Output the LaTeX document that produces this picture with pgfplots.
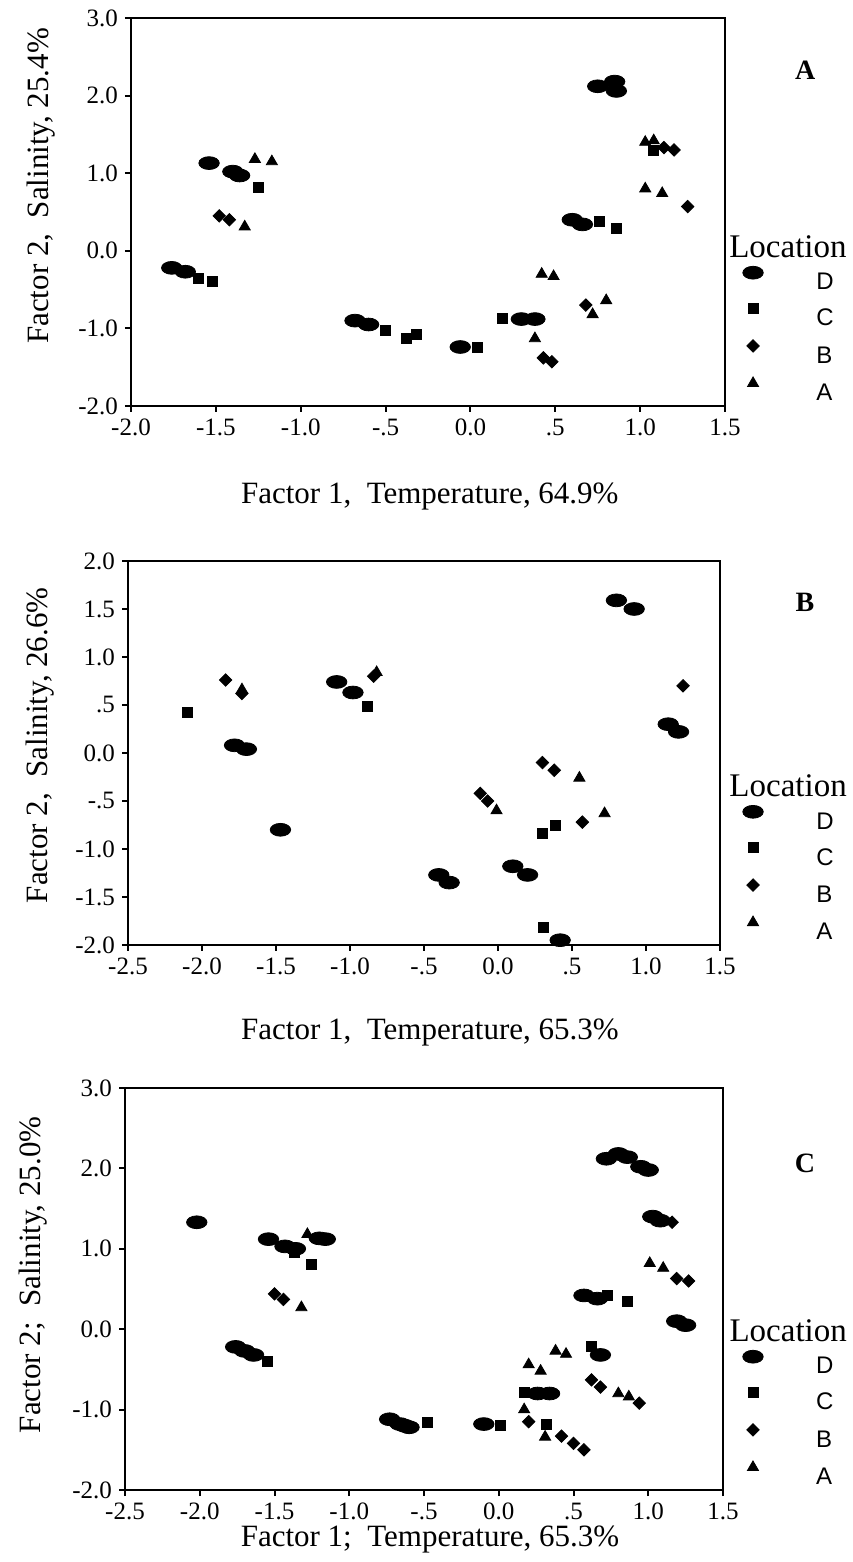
\documentclass[border=0pt]{standalone}
\usepackage{fontspec}
\setmainfont{Liberation Serif}
\newfontfamily\sansf{Liberation Sans}
\usepackage{pgfplots}
\pgfplotsset{compat=1.18}
\pgfdeclareplotmark{ellipse*}{%
  \pgfpathellipse{\pgfpointorigin}{\pgfqpoint{1.6\pgfplotmarksize}{0pt}}{\pgfqpoint{0pt}{\pgfplotmarksize}}%
  \pgfusepathqfillstroke}
\pgfplotsset{
  panel/.style={
    scale only axis, anchor=south west, clip=false,
    axis line style={line width=1pt},
    tick style={line width=1pt, black},
    major tick length=3pt, tick align=outside,
    xtick pos=bottom, ytick pos=left,
    tick label style={font=\fontsize{12.5}{14}\selectfont},
    label style={font=\fontsize{15.5}{18}\selectfont},
    legend style={draw=none, fill=none, inner sep=0pt, outer sep=0pt, anchor=north west,
      row sep=6.9pt, column sep=26.5pt, font=\sansf\fontsize{12}{12}\selectfont,
      nodes={inner sep=0pt, text height=8.6pt, text depth=0pt}},
    legend cell align=left,
  },
  lgimg/.style={legend image code/.code={\draw[##1] plot coordinates {(0pt,4.3pt)};}},
  serD/.style={only marks, mark=ellipse*, mark size=3.2pt, mark options={fill=black,draw=black}, lgimg},
  serC/.style={only marks, mark=square*, mark size=2.5pt, mark options={fill=black,draw=black}, lgimg},
  serB/.style={only marks, mark=square*, mark size=2.2pt, mark options={fill=black,draw=black,rotate=45}, lgimg},
  serA/.style={only marks, mark=triangle*, mark size=3.2pt, mark options={fill=black,draw=black}, lgimg},
}
\begin{document}
\begin{tikzpicture}
\path[use as bounding box] (0,0) rectangle (426pt,781pt);
% ---------------- Panel A ----------------
\begin{axis}[panel, at={(65.5pt,578pt)}, width=297pt, height=194pt,
  xmin=-2, xmax=1.5, ymin=-2, ymax=3,
  xtick={-2,-1.5,-1,-0.5,0,0.5,1,1.5}, xticklabels={-2.0,-1.5,-1.0,-.5,0.0,.5,1.0,1.5},
  ytick={-2,-1,0,1,2,3}, yticklabels={-2.0,-1.0,0.0,1.0,2.0,3.0},
  xlabel={Factor 1,\ \ Temperature, 64.9\%}, ylabel={Factor 2,\ \ Salinity, 25.4\%},
  xlabel style={at={(axis description cs:0.503,-0.2345)}, anchor=center},
  ylabel style={at={(axis description cs:-0.1515,0.567)}, anchor=center},
  legend style={at={(axis description cs:1.030,0.360)}},
]
\addplot[serD] coordinates {(-1.54,1.13) (-1.40,1.02) (-1.36,0.97) (-1.76,-0.22) (-1.68,-0.27)
  (-0.68,-0.90) (-0.60,-0.95) (-0.06,-1.24) (0.30,-0.88) (0.38,-0.88) (0.60,0.40) (0.66,0.34)
  (0.75,2.12) (0.85,2.18) (0.86,2.06)};
\addplot[serC] coordinates {(-1.25,0.82) (-1.60,-0.35) (-1.52,-0.39) (-0.50,-1.03) (-0.38,-1.13)
  (-0.32,-1.08) (0.04,-1.24) (0.19,-0.87) (0.76,0.38) (0.86,0.29) (1.08,1.29)};
\addplot[serB] coordinates {(-1.48,0.45) (-1.42,0.40) (0.43,-1.38) (0.48,-1.43) (0.68,-0.70)
  (1.14,1.33) (1.20,1.30) (1.28,0.57)};
\addplot[serA] coordinates {(-1.27,1.18) (-1.17,1.15) (-1.33,0.31) (0.42,-0.30) (0.49,-0.33)
  (0.38,-1.13) (0.80,-0.64) (0.72,-0.82) (1.03,1.40) (1.08,1.42) (1.03,0.80) (1.13,0.74)};
\legend{D,C,B,A}
\node[font=\fontsize{16.5}{18}\selectfont] at (axis description cs:1.106,0.41) {Location};
\node[font=\bfseries\fontsize{14}{14}\selectfont] at (axis description cs:1.135,0.866) {A};
\end{axis}
% ---------------- Panel B ----------------
\begin{axis}[panel, at={(64pt,308.5pt)}, width=296pt, height=192pt,
  xmin=-2.5, xmax=1.5, ymin=-2, ymax=2,
  xtick={-2.5,-2,-1.5,-1,-0.5,0,0.5,1,1.5}, xticklabels={-2.5,-2.0,-1.5,-1.0,-.5,0.0,.5,1.0,1.5},
  ytick={-2,-1.5,-1,-0.5,0,0.5,1,1.5,2}, yticklabels={-2.0,-1.5,-1.0,-.5,0.0,.5,1.0,1.5,2.0},
  xlabel={Factor 1,\ \ Temperature, 65.3\%}, ylabel={Factor 2,\ \ Salinity, 26.6\%},
  xlabel style={at={(axis description cs:0.51,-0.2266)}, anchor=center},
  ylabel style={at={(axis description cs:-0.149,0.52)}, anchor=center},
  legend style={at={(axis description cs:1.0385,0.3635)}},
]
\addplot[serD] coordinates {(-1.78,0.08) (-1.70,0.04) (-1.47,-0.80) (-1.09,0.74) (-0.98,0.63)
  (0.80,1.59) (0.92,1.50) (1.15,0.30) (1.22,0.22) (-0.40,-1.27) (-0.33,-1.35)
  (0.10,-1.18) (0.20,-1.27) (0.42,-1.95)};
\addplot[serC] coordinates {(-2.10,0.42) (-0.885,0.49) (0.385,-0.75) (0.30,-0.84) (0.31,-1.82)};
\addplot[serB] coordinates {(-1.84,0.76) (-1.73,0.62) (-0.84,0.80) (1.25,0.70) (0.30,-0.10)
  (0.38,-0.18) (-0.12,-0.42) (-0.07,-0.50) (0.57,-0.72)};
\addplot[serA] coordinates {(-1.73,0.66) (-0.82,0.84) (0.55,-0.26) (-0.01,-0.60) (0.72,-0.63)};
\legend{D,C,B,A}
\node[font=\fontsize{16.5}{18}\selectfont] at (axis description cs:1.115,0.414) {Location};
\node[font=\bfseries\fontsize{14}{14}\selectfont] at (axis description cs:1.1436,0.893) {B};
\end{axis}
% ---------------- Panel C ----------------
\begin{axis}[panel, at={(62.5pt,36pt)}, width=299pt, height=201pt,
  xmin=-2.5, xmax=1.5, ymin=-2, ymax=3,
  xtick={-2.5,-2,-1.5,-1,-0.5,0,0.5,1,1.5}, xticklabels={-2.5,-2.0,-1.5,-1.0,-.5,0.0,.5,1.0,1.5},
  ytick={-2,-1,0,1,2,3}, yticklabels={-2.0,-1.0,0.0,1.0,2.0,3.0},
  xlabel={Factor 1;\ \ Temperature, 65.3\%}, ylabel={Factor 2;\ \ Salinity, 25.0\%},
  xlabel style={at={(axis description cs:0.51,-0.124)}, anchor=center},
  ylabel style={at={(axis description cs:-0.154,0.535)}, anchor=center},
  legend style={at={(axis description cs:1.033,0.3475)}},
]
\addplot[serD] coordinates {(-2.02,1.33) (-1.54,1.12) (-1.43,1.03) (-1.36,1.00) (-1.20,1.13)
  (-1.16,1.12) (-1.76,-0.22) (-1.70,-0.27) (-1.64,-0.32) (-0.73,-1.12) (-0.66,-1.18)
  (-0.60,-1.22) (-0.63,-1.20) (-0.10,-1.18) (0.26,-0.80) (0.34,-0.80) (0.57,0.42) (0.66,0.38)
  (0.68,-0.32) (1.19,0.10) (1.25,0.05) (1.03,1.40) (1.08,1.35) (0.72,2.12) (0.80,2.18)
  (0.86,2.14) (0.95,2.02) (1.00,1.98)};
\addplot[serC] coordinates {(-1.37,0.95) (-1.25,0.80) (-1.55,-0.40) (-0.48,-1.16) (0.01,-1.20)
  (0.17,-0.78) (0.32,-1.19) (0.62,-0.22) (0.73,0.42) (0.86,0.35)};
\addplot[serB] coordinates {(-1.50,0.44) (-1.44,0.37) (0.20,-1.15) (0.42,-1.33) (0.50,-1.42)
  (0.57,-1.50) (0.62,-0.63) (0.68,-0.72) (0.94,-0.92) (1.16,1.33) (1.19,0.63) (1.27,0.60)};
\addplot[serA] coordinates {(-1.28,1.18) (-1.32,0.27) (0.20,-0.44) (0.28,-0.52) (0.38,-0.27)
  (0.45,-0.31) (0.17,-1.00) (0.31,-1.34) (0.80,-0.80) (0.87,-0.84) (1.01,0.82) (1.10,0.76)};
\legend{D,C,B,A}
\node[font=\fontsize{16.5}{18}\selectfont] at (axis description cs:1.109,0.3955) {Location};
\node[font=\bfseries\fontsize{14}{14}\selectfont] at (axis description cs:1.137,0.813) {C};
\end{axis}
\end{tikzpicture}
\end{document}
